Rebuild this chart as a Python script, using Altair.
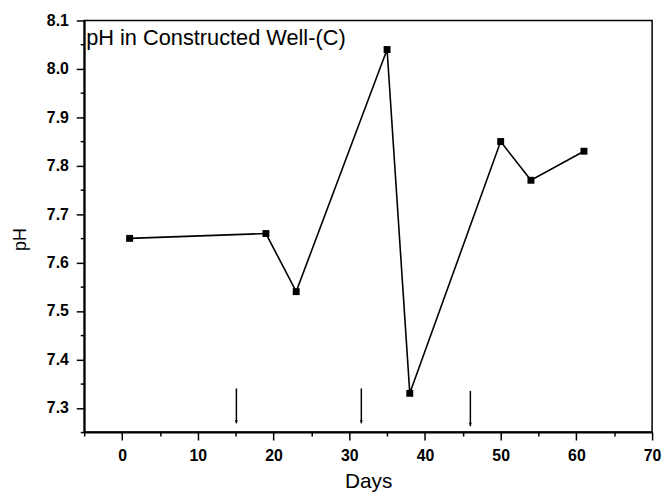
import altair as alt
import pandas as pd

# Data
days = [1, 19, 23, 35, 38, 50, 54, 61]
ph = [7.65, 7.66, 7.54, 8.04, 7.33, 7.85, 7.77, 7.83]

arrow_days = [15.1, 31.6, 46.0]
arrow_top = [7.34, 7.34, 7.335]
arrow_tip = [7.268, 7.268, 7.262]

x_major = [0, 10, 20, 30, 40, 50, 60, 70]
x_minor = [-5, 5, 15, 25, 35, 45, 55, 65]
y_major = [7.3, 7.4, 7.5, 7.6, 7.7, 7.8, 7.9, 8.0, 8.1]
y_minor = [7.25, 7.35, 7.45, 7.55, 7.65, 7.75, 7.85, 7.95, 8.05]

df = pd.DataFrame({"day": days, "ph": ph})
arr = pd.DataFrame({"day": arrow_days, "top": arrow_top, "tip": arrow_tip})

FONT = "Liberation Sans"

x_scale = alt.Scale(domain=[-5, 70], nice=False, zero=False)
y_scale = alt.Scale(domain=[7.25, 8.1], nice=False, zero=False)

x_axis = alt.Axis(
    values=x_major, format="d",
    title="Days", orient="bottom",
    titleFont=FONT, titleFontSize=21, titleFontWeight="normal", titleColor="black",
    titleY=50, titleBaseline="middle",
    labelFont=FONT, labelFontSize=16, labelFontWeight="bold", labelColor="black",
    labelPadding=8, tickSize=8,
    tickColor="black", tickWidth=1.5,
    domainColor="black", domainWidth=2,
    grid=False, labelFlush=False, labelOverlap=False,
)

y_axis = alt.Axis(
    values=y_major, format=".1f",
    title="pH", orient="left",
    titleFont=FONT, titleFontSize=18, titleFontWeight="normal", titleColor="black",
    titleAngle=-90, titleX=-64, titleY=221, titleAlign="center", titleBaseline="middle",
    labelFont=FONT, labelFontSize=16, labelFontWeight="bold", labelColor="black",
    labelPadding=8, tickSize=8,
    tickColor="black", tickWidth=1.5,
    domainColor="black", domainWidth=2,
    grid=False, labelFlush=False, labelOverlap=False,
)

x_minor_axis = alt.Axis(
    values=x_minor, orient="bottom", title=None, labels=False, domain=False,
    tickSize=4, tickColor="black", tickWidth=1.5, grid=False,
)
y_minor_axis = alt.Axis(
    values=y_minor, orient="left", title=None, labels=False, domain=False,
    tickSize=4, tickColor="black", tickWidth=1.5, grid=False,
)

base = alt.Chart(df)

minor = base.mark_point(opacity=0).encode(
    x=alt.X("day:Q", scale=x_scale, axis=x_minor_axis),
    y=alt.Y("ph:Q", scale=y_scale, axis=y_minor_axis),
)

line = base.mark_line(color="black", strokeWidth=1.6).encode(
    x=alt.X("day:Q", scale=x_scale, axis=x_axis),
    y=alt.Y("ph:Q", scale=y_scale, axis=y_axis),
)

points = base.mark_point(shape="square", filled=True, color="black", size=49, opacity=1).encode(
    x=alt.X("day:Q", scale=x_scale, axis=x_axis),
    y=alt.Y("ph:Q", scale=y_scale, axis=y_axis),
)

arrow_shaft = alt.Chart(arr).mark_rule(color="black", strokeWidth=1.5).encode(
    x=alt.X("day:Q", scale=x_scale, axis=x_axis),
    y=alt.Y("top:Q", scale=y_scale, axis=y_axis),
    y2="tip:Q",
)

arrow_head = alt.Chart(arr).mark_point(
    shape="M-0.4,-1L0.4,-1L0,0Z", filled=True, color="black", size=49, opacity=1
).encode(
    x=alt.X("day:Q", scale=x_scale, axis=x_axis),
    y=alt.Y("tip:Q", scale=y_scale, axis=y_axis),
)

main = alt.layer(line, points, arrow_shaft, arrow_head)

chart = alt.layer(main, minor).resolve_axis(x="independent", y="independent").properties(
    width=574,
    height=416,
    autosize=alt.AutoSizeParams(type="none"),
    padding={"left": 77, "top": 10, "right": 10, "bottom": 60},
    background="white",
    title=alt.TitleParams(
        text="pH in Constructed Well-(C)",
        anchor="start", frame="group", orient="top",
        font=FONT, fontSize=22, fontWeight="normal", color="black",
        baseline="alphabetic", offset=0, dx=2, dy=55,
    ),
).configure_view(
    stroke="black", strokeWidth=1.5
)

chart.save("out.html", embed_options={"renderer": "svg", "actions": False})
